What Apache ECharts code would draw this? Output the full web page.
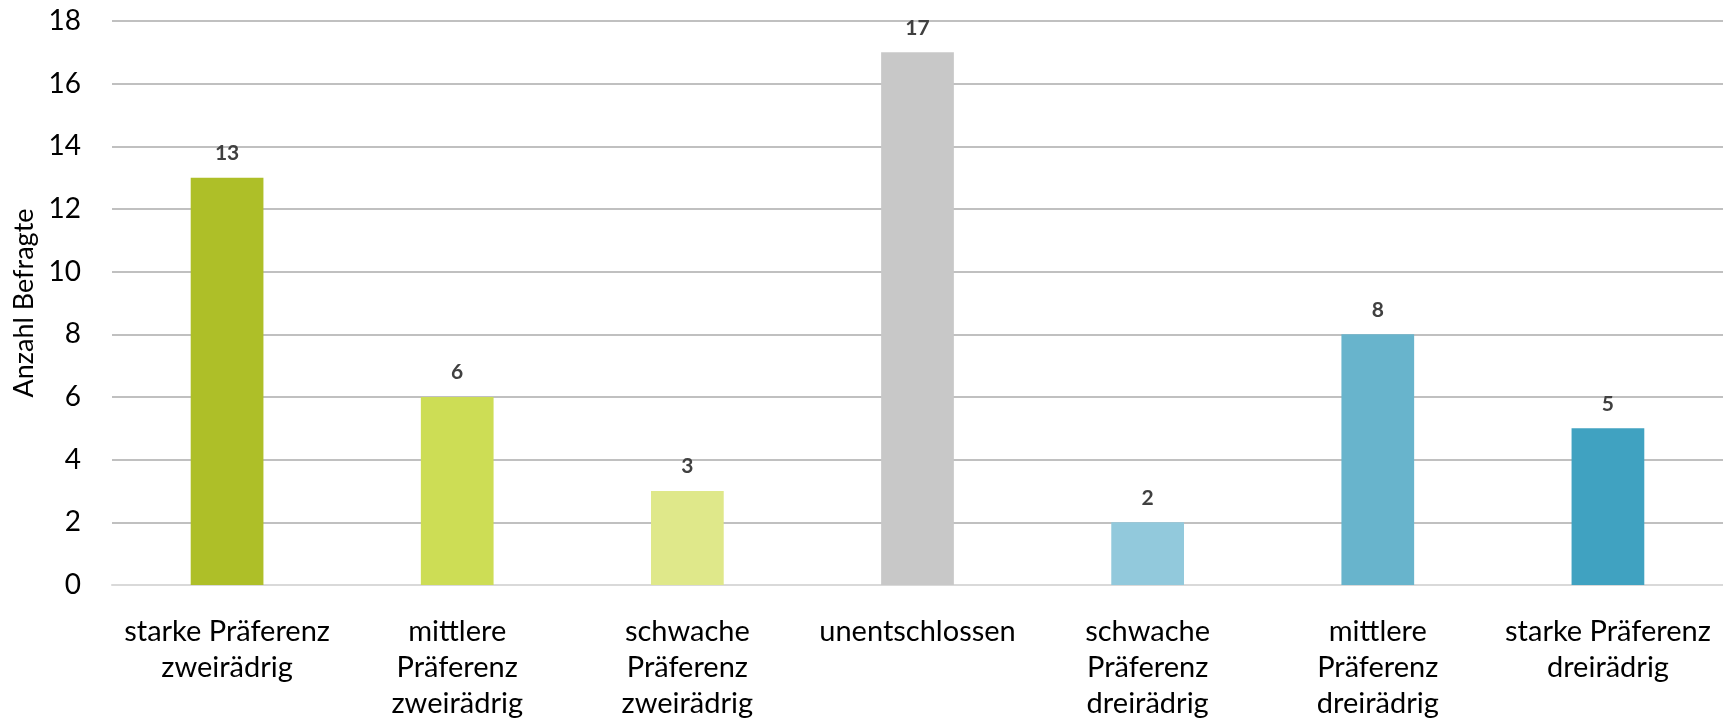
<!DOCTYPE html>
<html><head><meta charset="utf-8">
<script src="https://cdn.jsdelivr.net/npm/echarts@6/dist/echarts.min.js"></script>
<style>html,body{margin:0;padding:0;background:#fff}#c{width:1723px;height:722px}</style>
</head><body><div id="c"></div>
<script>
const categories = [
  "starke Präferenz\nzweirädrig",
  "mittlere\nPräferenz\nzweirädrig",
  "schwache\nPräferenz\nzweirädrig",
  "unentschlossen",
  "schwache\nPräferenz\ndreirädrig",
  "mittlere\nPräferenz\ndreirädrig",
  "starke Präferenz\ndreirädrig"
];
const values = [13, 6, 3, 17, 2, 8, 5];
const barColors = ["#AEBF28", "#CDDD55", "#DFE88A", "#C8C8C8", "#92C9DC", "#68B4CC", "#40A2C1"];
const yAxisName = "Anzahl Befragte";

const chart = echarts.init(document.getElementById('c'));
const font = "Lato";
chart.setOption({
  animation: false,
  grid: { left: 112, top: 21, width: 1616, height: 566, containLabel: false },
  xAxis: {
    type: 'category',
    data: categories,
    axisTick: { show: false },
    axisLine: { lineStyle: { color: '#D9D9D9', width: 2 } },
    axisLabel: { color: '#000', fontFamily: font, fontSize: 29, lineHeight: 36, margin: 29, interval: 0 }
  },
  yAxis: {
    type: 'value', min: 0, max: 18, interval: 2,
    name: yAxisName, nameLocation: 'middle', nameGap: 74, nameRotate: 90,
    nameTextStyle: { color: '#000', fontFamily: font, fontSize: 27 },
    axisLine: { show: false }, axisTick: { show: false },
    axisLabel: { color: '#000', fontFamily: font, fontSize: 28, margin: 31 },
    splitLine: { lineStyle: { color: '#C0C0C0', width: 2 } }
  },
  series: [{
    type: 'bar',
    barWidth: '31.6%',
    data: values.map((v, i) => ({ value: v, itemStyle: { color: barColors[i] } })),
    label: { show: true, position: 'top', distance: 14, color: '#404040', fontFamily: font, fontWeight: 'bold', fontSize: 21 }
  }]
});
</script></body></html>
